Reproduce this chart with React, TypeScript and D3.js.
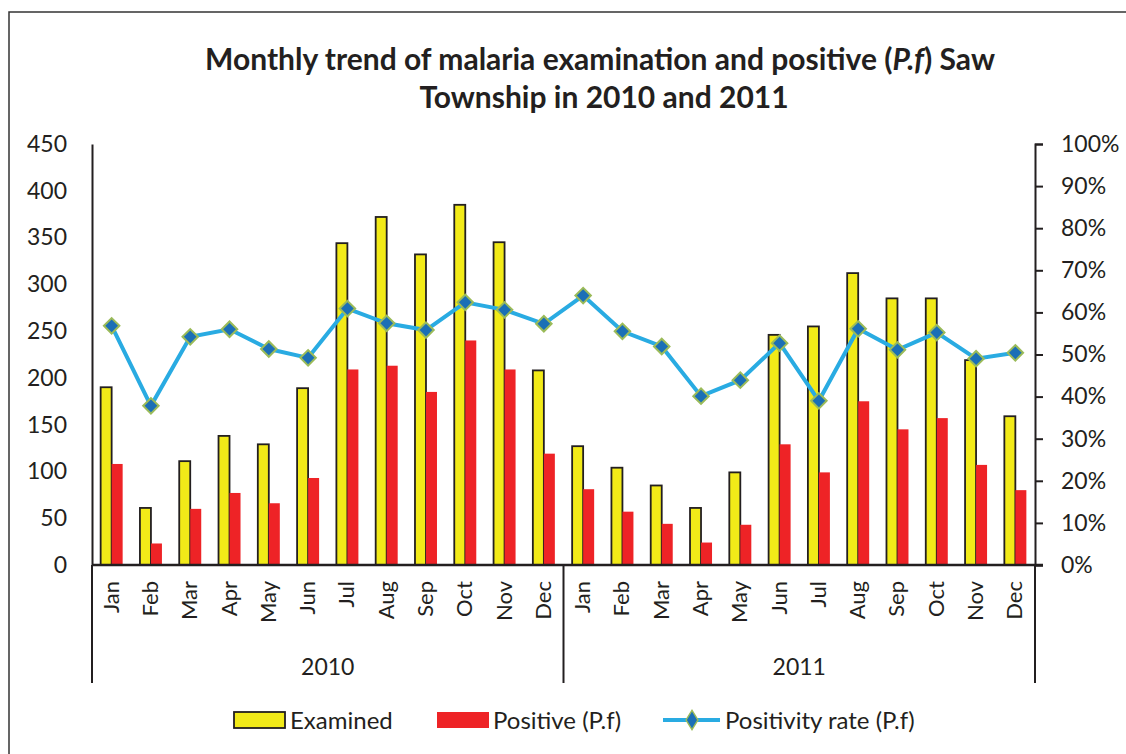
import React, { useEffect, useRef } from 'react';
import * as d3 from 'd3';

const months = ['Jan', 'Feb', 'Mar', 'Apr', 'May', 'Jun', 'Jul', 'Aug', 'Sep', 'Oct', 'Nov', 'Dec'];
const years = ['2010', '2011'];

const examined2010 = [190, 61, 111, 138, 129, 189, 344, 372, 332, 385, 345, 208];
const examined2011 = [127, 104, 85, 61, 99, 246, 255, 312, 285, 285, 219, 159];
const positive2010 = [108, 23, 60, 77, 66, 93, 209, 213, 185, 240, 209, 119];
const positive2011 = [81, 57, 44, 24, 43, 129, 99, 175, 145, 157, 107, 80];
const rate2010 = [0.568, 0.378, 0.542, 0.56, 0.513, 0.492, 0.609, 0.574, 0.558, 0.624, 0.606, 0.573];
const rate2011 = [0.64, 0.555, 0.519, 0.401, 0.439, 0.527, 0.39, 0.561, 0.511, 0.552, 0.49, 0.504];

const leftTicks = [0, 50, 100, 150, 200, 250, 300, 350, 400, 450];
const rightTicks = [0, 0.1, 0.2, 0.3, 0.4, 0.5, 0.6, 0.7, 0.8, 0.9, 1];

const FONT = 'Lato, "Open Sans", sans-serif';

const App = () => {
  const ref = useRef<SVGSVGElement>(null);

  useEffect(() => {
    if (!ref.current) return;
    const svg = d3.select(ref.current);
    svg.selectAll('*').remove();

    const left = 92, right = 1035, top = 144, bottom = 565;

    const rows = years.flatMap((yr, yi) =>
      months.map((m, i) => ({
        key: `${yr}-${m}`,
        month: m,
        year: yr,
        examined: yi === 0 ? examined2010[i] : examined2011[i],
        positive: yi === 0 ? positive2010[i] : positive2011[i],
        rate: yi === 0 ? rate2010[i] : rate2011[i],
      }))
    );

    const x = d3.scaleBand().domain(rows.map(d => d.key)).range([left, right]).paddingInner(0.44).paddingOuter(0.22);
    const xs = d3.scaleBand().domain(['examined', 'positive']).range([0, x.bandwidth()]);
    const y = d3.scaleLinear().domain([0, 450]).range([bottom, top]);
    const y2 = d3.scaleLinear().domain([0, 1]).range([bottom, top]);
    const step = x.step();

    // outer frame
    svg.append('rect').attr('x', 9).attr('y', 12).attr('width', 1130).attr('height', 760)
      .attr('fill', 'white').attr('stroke', '#333').attr('stroke-width', 1.5);

    // title
    const title = svg.append('text').attr('text-anchor', 'middle').attr('font-family', FONT)
      .attr('font-weight', 700).attr('font-size', 30).attr('fill', '#231f20');
    const t1 = title.append('tspan').attr('x', 600).attr('y', 70);
    t1.append('tspan').text('Monthly trend of malaria examination and positive (');
    t1.append('tspan').attr('font-style', 'italic').text('P.f');
    t1.append('tspan').text(') Saw');
    title.append('tspan').attr('x', 604).attr('y', 108).text('Township  in 2010 and 2011');

    // bars
    svg.append('g').selectAll('rect').data(rows).join('rect')
      .attr('x', d => (x(d.key) as number) + (xs('examined') as number))
      .attr('y', d => y(d.examined))
      .attr('width', xs.bandwidth())
      .attr('height', d => y(0) - y(d.examined))
      .attr('fill', '#f2ea18').attr('stroke', '#231f20').attr('stroke-width', 1.8);

    svg.append('g').selectAll('rect').data(rows).join('rect')
      .attr('x', d => (x(d.key) as number) + (xs('positive') as number))
      .attr('y', d => y(d.positive))
      .attr('width', xs.bandwidth())
      .attr('height', d => y(0) - y(d.positive))
      .attr('fill', '#ee2326');

    // axes
    const axisColor = '#231f20';
    const gl = svg.append('g').attr('transform', `translate(${left},0)`)
      .call(d3.axisLeft(y).tickValues(leftTicks).tickSize(0).tickPadding(25));
    gl.select('.domain').attr('stroke', axisColor).attr('stroke-width', 2);
    gl.selectAll('text').attr('font-family', FONT).attr('font-size', 23).attr('fill', axisColor);

    const gr = svg.append('g').attr('transform', `translate(${right},0)`)
      .call(d3.axisRight(y2).tickValues(rightTicks).tickSize(8).tickPadding(18).tickFormat(d3.format('.0%')));
    gr.select('.domain').attr('stroke', axisColor).attr('stroke-width', 2);
    gr.selectAll('line').attr('stroke', axisColor).attr('stroke-width', 2);
    gr.selectAll('text').attr('font-family', FONT).attr('font-size', 23).attr('fill', axisColor);

    svg.append('line').attr('x1', left).attr('x2', right + 8).attr('y1', bottom).attr('y2', bottom)
      .attr('stroke', axisColor).attr('stroke-width', 2.5);

    // group separators
    [0, 12, 24].forEach(i => {
      const sx = left + i * step;
      svg.append('line').attr('x1', sx).attr('x2', sx).attr('y1', bottom).attr('y2', 683)
        .attr('stroke', axisColor).attr('stroke-width', 2);
    });

    // month labels
    svg.append('g').selectAll('text').data(rows).join('text')
      .attr('transform', d => `translate(${(x(d.key) as number) + x.bandwidth() / 2 + 7},581) rotate(-90)`)
      .attr('text-anchor', 'end')
      .attr('font-family', FONT).attr('font-size', 22).attr('fill', axisColor)
      .text(d => d.month);

    // year labels
    svg.append('g').selectAll('text').data(years).join('text')
      .attr('x', (d, i) => left + (i * 12 + 6) * step)
      .attr('y', 675)
      .attr('text-anchor', 'middle')
      .attr('font-family', FONT).attr('font-size', 23).attr('fill', axisColor)
      .text(d => d);

    // positivity line
    const cx = (d: typeof rows[number]) => (x(d.key) as number) + x.bandwidth() / 2;
    const line = d3.line<typeof rows[number]>().x(cx).y(d => y2(d.rate));
    svg.append('path').datum(rows).attr('d', line).attr('fill', 'none')
      .attr('stroke', '#29abe2').attr('stroke-width', 4);

    svg.append('g').selectAll('path').data(rows).join('path')
      .attr('transform', d => `translate(${cx(d)},${y2(d.rate)}) rotate(45)`)
      .attr('d', d3.symbol().type(d3.symbolSquare).size(120)())
      .attr('fill', '#1b6fb6').attr('stroke', '#9bbb59').attr('stroke-width', 2);

    // legend
    const lg = svg.append('g').attr('font-family', FONT).attr('font-size', 24).attr('fill', axisColor);
    lg.append('rect').attr('x', 234).attr('y', 712).attr('width', 51).attr('height', 16)
      .attr('fill', '#f2ea18').attr('stroke', '#231f20').attr('stroke-width', 1.8);
    lg.append('text').attr('x', 290).attr('y', 729).text('Examined');
    lg.append('rect').attr('x', 437).attr('y', 712).attr('width', 52).attr('height', 16).attr('fill', '#ee2326');
    lg.append('text').attr('x', 493).attr('y', 729).text('Positive (P.f)');
    lg.append('line').attr('x1', 663).attr('x2', 720).attr('y1', 720).attr('y2', 720)
      .attr('stroke', '#29abe2').attr('stroke-width', 4);
    lg.append('path').attr('transform', 'translate(692,720) scale(0.8,1.3) rotate(45)')
      .attr('d', d3.symbol().type(d3.symbolSquare).size(110)())
      .attr('fill', '#1b6fb6').attr('stroke', '#9bbb59').attr('stroke-width', 1.5);
    lg.append('text').attr('x', 725).attr('y', 729).text('Positivity rate (P.f)');
  }, []);

  return (
    <svg ref={ref} width={1126} height={754}
      style={{ position: 'absolute', left: 0, top: 0, background: 'white' }} />
  );
};

export default App;
